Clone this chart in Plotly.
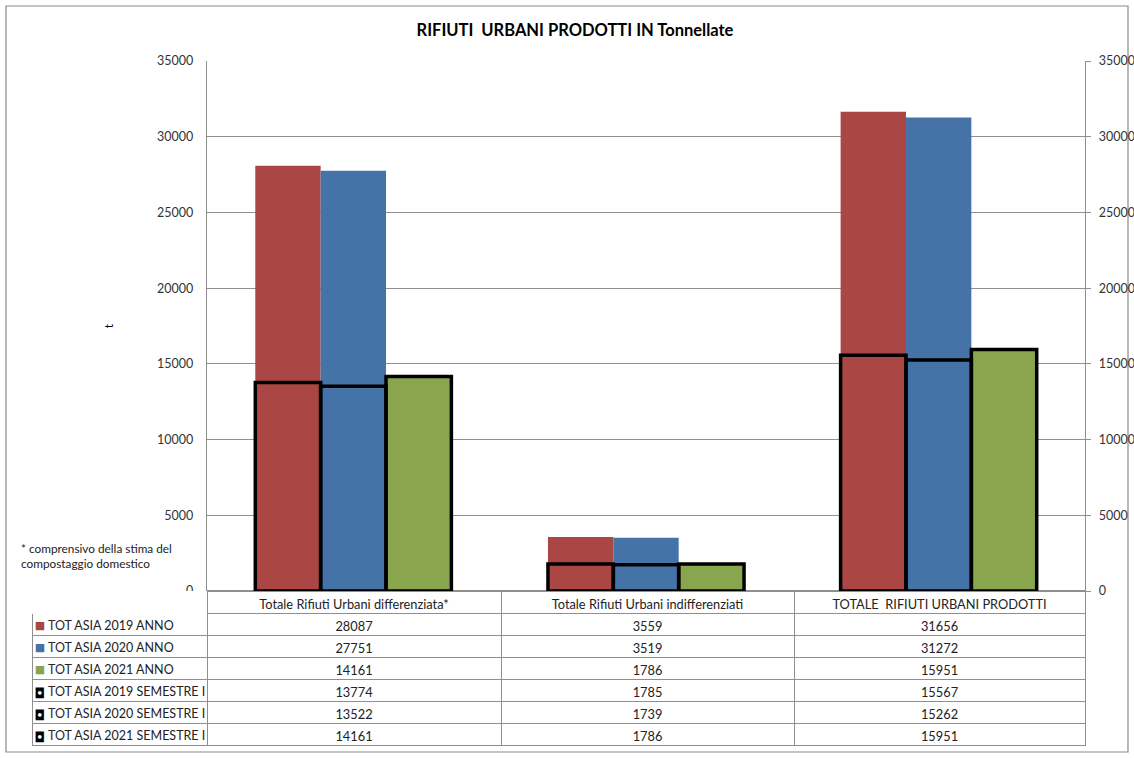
import plotly.graph_objects as go

categories = ["Totale Rifiuti Urbani differenziata*",
              "Totale Rifiuti Urbani indifferenziati",
              "TOTALE\u00a0 RIFIUTI URBANI PRODOTTI"]

series_names = ["TOT ASIA 2019 ANNO", "TOT ASIA 2020 ANNO", "TOT ASIA 2021 ANNO",
                "TOT ASIA 2019 SEMESTRE I", "TOT ASIA 2020 SEMESTRE I", "TOT ASIA 2021 SEMESTRE I"]

anno_2019 = [28087, 3559, 31656]
anno_2020 = [27751, 3519, 31272]
anno_2021 = [14161, 1786, 15951]
sem_2019 = [13774, 1785, 15567]
sem_2020 = [13522, 1739, 15262]
sem_2021 = [14161, 1786, 15951]

y_ticks = [0, 5000, 10000, 15000, 20000, 25000, 30000, 35000]

colors = ["#AA4643", "#4572A7", "#89A54E"]
FONT = "Lato, 'Open Sans', sans-serif"
GRID = "#8f8f8f"
NB = "\u00a0"
THIN = "\u2009"
CLEAR = "rgba(0,0,0,0)"

annual = [anno_2019, anno_2020, anno_2021]
semester = [sem_2019, sem_2020, sem_2021]

fig = go.Figure()
for i, vals in enumerate(annual):
    fig.add_trace(go.Bar(x=categories, y=vals, name=series_names[i],
                         offsetgroup=str(i), marker=dict(color=colors[i], line=dict(width=0)),
                         showlegend=False))
for i, vals in enumerate(semester):
    fig.add_trace(go.Bar(x=categories, y=vals, name=series_names[3 + i],
                         offsetgroup=str(i),
                         marker=dict(color=CLEAR, line=dict(color="black", width=3.5)),
                         showlegend=False))

# pixel geometry -> paper coordinates
W, H = 1134, 758
ml, mr, mt, mb = 32, 49, 61, 11
pw, ph = W - ml - mr, H - mt - mb
x_plot0 = (207 - ml) / pw
y_plot0 = (747 - 591) / ph

# data table: series names + values
label_col = [NB * 2 + THIN + n.replace(" ", NB) for n in series_names]
all_series = annual + semester
value_cols = [[str(s[j]) for s in all_series] for j in range(len(categories))]

fig.add_trace(go.Table(
    domain=dict(x=[0, 1], y=[0, y_plot0]),
    columnwidth=[175, 294, 293, 291],
    header=dict(values=[""] + [c.replace(" ", NB) for c in categories], height=22,
                fill_color="white",
                line=dict(color=["white", GRID, GRID, GRID], width=1),
                align=["left", "center", "center", "center"],
                font=dict(family=FONT, size=12.8, color="#222")),
    cells=dict(values=[label_col] + value_cols, height=22,
               fill_color="white",
               line=dict(color=GRID, width=1),
               align=["left", "center", "center", "center"],
               font=dict(family=FONT, size=[12.5, 12.8, 12.8, 12.8], color="#222")),
))

# legend keys of the data table: one transparent narrow table per key colour
key_glyphs = ["■", "■", "■", "◘", "◘", "◘"]
key_colors = colors + ["black", "black", "black"]
for kc, ks in [(colors[0], 11), (colors[1], 11), (colors[2], 11), ("black", 14)]:
    col = [g if c == kc else "" for g, c in zip(key_glyphs, key_colors)]
    fig.add_trace(go.Table(
        domain=dict(x=[1 / pw, 15 / pw], y=[0, y_plot0]),
        columnwidth=[14],
        header=dict(values=[""], height=22, fill_color=CLEAR, line=dict(color=CLEAR, width=0)),
        cells=dict(values=[col], height=22, fill_color=CLEAR,
                   line=dict(color=CLEAR, width=0), align="center",
                   font=dict(family="DejaVu Sans", size=ks, color=kc)),
    ))

fig.update_layout(
    width=W, height=H,
    margin=dict(l=ml, r=mr, t=mt, b=mb, autoexpand=False),
    paper_bgcolor="white", plot_bgcolor="white",
    barmode="group", bargap=0.33, bargroupgap=0,
    font=dict(family=FONT, color="#333"),
    title=dict(text="RIFIUTI\u00a0 URBANI PRODOTTI IN Tonnellate", x=575 / W, xref="container",
               y=1 - 30 / H, yref="container", xanchor="center", yanchor="middle",
               font=dict(family=FONT, size=16.5, color="black", weight="bold")),
    xaxis=dict(domain=[x_plot0, 1], showticklabels=False, ticks="", showgrid=False,
               showline=False, zeroline=False, automargin=False),
    yaxis=dict(domain=[y_plot0, 1], range=[0, 35000], tickvals=y_ticks, tickformat="d",
               showgrid=True, gridcolor=GRID, gridwidth=1.3, zeroline=True, zerolinecolor=GRID,
               showline=True, linecolor=GRID, linewidth=1.3, ticks="",
               ticklabelstandoff=10, automargin=False,
               tickfont=dict(family=FONT, size=12.5, color="#333"),
               title=dict(text="t", standoff=40, font=dict(family=FONT, size=12, color="black"))),
    yaxis2=dict(overlaying="y", side="right", anchor="x", range=[0, 35000], tickvals=y_ticks,
                tickformat="d", automargin=False,
                showgrid=False, zeroline=False, showline=True, linecolor=GRID, linewidth=1.3,
                ticks="outside", ticklen=5, tickcolor=GRID, ticklabelstandoff=5,
                tickfont=dict(family=FONT, size=12.5, color="#333")),
    annotations=[dict(text="* comprensivo della stima del<br>compostaggio domestico",
                      xref="paper", yref="paper", x=(19 - ml) / pw, y=(747 - 556) / ph,
                      xanchor="left", yanchor="middle", align="left", showarrow=False,
                      font=dict(family=FONT, size=11.8, color="#222"))],
    shapes=[dict(type="rect", xref="paper", yref="paper",
                 x0=(6 - ml) / pw, x1=(1128 - ml) / pw,
                 y0=(747 - 752) / ph, y1=(747 - 6) / ph,
                 line=dict(color="#8a8a8a", width=1.2), fillcolor=CLEAR, layer="below")],
)
# invisible trace so the right axis is rendered
fig.add_trace(go.Scatter(x=[categories[0]], y=[0], yaxis="y2", mode="markers",
                         marker=dict(opacity=0), showlegend=False, hoverinfo="skip"))

fig.write_html("out.html", config={"displayModeBar": False},
               post_script="document.body.style.margin='0';document.body.style.padding='0';"
                           "document.body.style.overflow='hidden';")
